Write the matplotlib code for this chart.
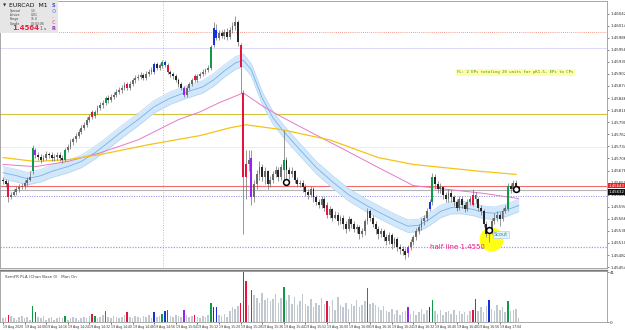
import numpy as np
import matplotlib
matplotlib.use("Agg")
import matplotlib.pyplot as plt
import matplotlib.transforms as mtransforms
from matplotlib.patches import Rectangle

# ---------------- data (prices in pips above 1.4500) ----------------
opens_p = [
    65.7, 65.3, 65.0, 61.6, 62.2, 62.9, 63.4, 63.9, 64.3, 64.8,
    65.7, 67.6, 72.6, 71.5, 71.0, 70.3, 70.8, 71.7, 71.3, 70.6,
    71.0, 71.5, 70.8, 70.3, 72.6, 73.3, 74.3, 75.0, 75.9, 76.8,
    77.7, 78.4, 79.6, 81.4, 80.5, 81.4, 82.3, 83.0, 83.5, 84.6,
    84.2, 84.9, 85.3, 86.0, 86.5, 87.0, 87.9, 87.0, 87.9, 88.8,
    89.3, 89.5, 90.0, 89.3, 90.2, 90.7, 90.7, 92.5, 91.6, 92.0,
    93.0, 92.3, 90.7, 90.2, 89.7, 88.8, 87.9, 87.0, 85.3, 87.0,
    87.9, 89.7, 88.8, 89.7, 90.2, 90.7, 91.1, 91.6, 96.9, 100.4,
    98.5, 99.7, 99.0, 99.9, 98.7, 100.4, 101.3, 102.2, 96.9, 85.8,
    66.2, 69.2, 70.8, 61.6, 64.6, 66.9, 68.5, 66.2, 67.6, 64.6,
    65.7, 66.9, 68.0, 66.2, 68.0, 70.3, 68.0, 66.9, 67.6, 65.7,
    64.6, 65.0, 63.9, 62.9, 62.2, 63.4, 61.6, 60.6, 59.9, 61.1,
    59.9, 57.6, 58.8, 56.9, 57.6, 56.0, 56.9, 55.3, 54.2, 56.5,
    55.3, 54.2, 54.6, 53.0, 53.7, 56.0, 58.3, 56.9, 55.3, 54.2,
    53.0, 53.7, 52.3, 51.4, 52.8, 50.7, 51.9, 50.0, 49.5, 49.1,
    48.6, 50.0, 51.2, 52.3, 53.7, 54.6, 56.0, 56.9, 58.8, 60.4,
    66.4, 64.6, 63.4, 63.9, 62.2, 61.1, 62.7, 61.6, 60.4, 59.2,
    61.1, 59.9, 58.8, 60.4, 59.9, 62.2, 61.1, 59.2, 58.3, 55.3,
    53.0, 53.7, 56.0, 56.9, 57.6, 56.5, 58.3, 58.8, 64.3, 63.4,
    65.0, 63.9]
closes_p = [
    65.3, 64.6, 61.6, 62.2, 62.9, 63.4, 63.9, 64.3, 64.8, 65.7,
    66.2, 73.1, 71.5, 71.0, 70.3, 70.8, 71.7, 71.3, 70.6, 71.0,
    71.5, 70.8, 70.3, 72.6, 73.3, 74.3, 75.0, 75.9, 76.8, 77.7,
    78.4, 79.6, 80.3, 80.3, 81.4, 82.3, 83.0, 83.5, 84.6, 84.2,
    84.9, 85.3, 86.0, 86.5, 87.0, 87.7, 87.0, 87.9, 88.8, 89.3,
    89.5, 90.0, 89.3, 90.2, 90.7, 91.1, 92.5, 91.6, 92.3, 93.0,
    92.3, 90.7, 90.2, 89.7, 88.8, 87.9, 87.0, 85.3, 87.0, 87.9,
    88.8, 88.8, 89.7, 90.2, 90.7, 91.1, 91.6, 96.4, 100.8, 98.5,
    99.7, 99.0, 99.9, 98.7, 100.4, 101.3, 102.2, 97.6, 91.8, 66.2,
    69.2, 70.3, 61.6, 64.6, 66.9, 68.5, 66.2, 67.6, 64.6, 65.7,
    66.9, 68.0, 66.2, 68.5, 70.3, 68.0, 66.9, 67.6, 65.7, 64.6,
    65.0, 63.9, 62.9, 62.2, 63.4, 61.6, 60.6, 59.9, 61.1, 59.2,
    57.6, 58.8, 56.9, 57.6, 56.0, 56.9, 55.3, 54.2, 56.5, 55.3,
    54.2, 54.6, 53.0, 53.7, 56.0, 58.3, 56.9, 55.3, 54.2, 53.0,
    53.7, 52.3, 51.4, 52.8, 50.7, 51.9, 50.0, 49.5, 49.1, 48.2,
    50.0, 51.2, 52.3, 53.7, 54.6, 56.0, 56.9, 58.3, 60.4, 66.4,
    64.6, 63.4, 63.9, 62.2, 61.1, 62.7, 61.6, 60.4, 59.2, 61.1,
    59.9, 58.8, 60.4, 61.1, 62.2, 61.1, 59.2, 58.3, 55.3, 53.0,
    53.7, 56.0, 56.9, 57.6, 56.5, 58.3, 59.2, 64.3, 63.4, 65.0,
    63.9, 63.6]
highs_p = [
    66.4, 65.9, 65.5, 62.9, 63.4, 64.1, 64.6, 65.0, 65.5, 66.2,
    67.6, 73.8, 73.1, 72.2, 71.7, 71.5, 72.4, 72.2, 72.0, 71.7,
    72.2, 72.0, 71.5, 73.1, 74.0, 75.0, 75.6, 76.6, 77.5, 78.4,
    79.1, 80.3, 81.0, 81.9, 81.9, 83.0, 83.7, 84.2, 85.1, 85.3,
    85.6, 86.0, 86.7, 87.2, 87.7, 88.3, 88.3, 88.6, 89.3, 90.0,
    90.2, 90.7, 90.4, 90.9, 91.4, 91.8, 93.0, 93.0, 92.7, 93.4,
    93.4, 92.7, 91.1, 90.7, 90.2, 89.3, 88.3, 87.4, 87.4, 88.3,
    89.3, 90.2, 90.2, 90.7, 91.4, 91.6, 92.3, 96.9, 102.2, 101.7,
    100.4, 100.4, 100.6, 100.8, 101.1, 102.2, 103.6, 102.7, 97.4, 86.5,
    72.6, 72.6, 72.6, 65.7, 68.0, 69.9, 69.2, 68.5, 68.0, 66.6,
    67.6, 68.9, 68.7, 69.4, 77.3, 71.0, 68.7, 68.5, 68.0, 66.4,
    65.7, 65.7, 64.6, 63.6, 64.1, 63.9, 62.2, 61.3, 61.8, 61.6,
    60.6, 59.5, 59.2, 58.3, 58.1, 57.6, 57.4, 56.0, 57.2, 56.9,
    56.0, 55.3, 55.1, 54.4, 56.5, 59.2, 58.8, 57.6, 56.0, 54.9,
    54.4, 54.2, 53.0, 53.5, 53.2, 52.5, 52.3, 50.7, 50.2, 49.8,
    50.5, 51.9, 52.8, 54.4, 55.3, 56.7, 57.6, 59.0, 61.1, 67.3,
    66.9, 65.3, 64.8, 64.3, 62.9, 63.4, 63.2, 62.2, 61.1, 61.8,
    61.8, 60.6, 61.1, 61.8, 63.4, 62.9, 61.6, 59.9, 58.8, 56.0,
    54.6, 56.7, 57.9, 58.3, 58.1, 59.0, 59.9, 65.0, 65.0, 65.7,
    65.7, 64.3]
lows_p = [
    64.6, 63.9, 60.6, 61.1, 61.8, 62.2, 62.9, 63.4, 63.6, 64.3,
    65.3, 67.1, 70.8, 70.3, 69.6, 69.9, 70.3, 70.6, 69.9, 70.1,
    70.3, 70.1, 69.6, 69.9, 72.0, 72.9, 73.6, 74.5, 75.4, 76.3,
    77.3, 78.0, 79.1, 79.8, 80.0, 81.0, 81.9, 82.3, 83.0, 83.5,
    83.7, 84.4, 84.9, 85.6, 85.8, 86.5, 86.5, 86.5, 87.4, 88.1,
    88.8, 89.0, 88.8, 88.8, 89.7, 90.2, 90.2, 91.1, 91.1, 91.6,
    91.8, 90.2, 89.5, 89.0, 88.3, 87.2, 86.5, 84.9, 84.9, 86.5,
    87.4, 88.3, 88.3, 89.3, 89.7, 90.2, 90.7, 91.1, 96.4, 98.1,
    98.1, 98.5, 98.3, 98.1, 98.3, 99.7, 100.4, 96.7, 85.8, 53.0,
    61.1, 67.6, 59.9, 60.6, 63.4, 65.7, 65.3, 64.6, 63.4, 63.9,
    64.8, 66.2, 65.3, 65.7, 65.3, 64.8, 65.9, 66.2, 64.8, 63.9,
    63.9, 62.9, 62.0, 61.3, 61.6, 60.6, 59.7, 59.0, 59.2, 58.3,
    56.9, 56.9, 56.0, 56.5, 55.1, 55.3, 54.2, 53.2, 53.7, 54.4,
    53.5, 53.2, 51.9, 52.3, 52.8, 55.3, 56.0, 54.6, 53.0, 51.9,
    52.3, 51.4, 50.5, 50.7, 49.5, 50.0, 49.1, 48.4, 48.2, 47.2,
    47.7, 49.3, 50.5, 51.6, 53.0, 53.9, 55.1, 56.2, 58.3, 59.9,
    63.4, 62.5, 62.7, 61.3, 60.4, 60.6, 60.6, 59.5, 58.3, 58.6,
    59.0, 58.1, 58.3, 59.7, 59.5, 60.2, 58.3, 57.4, 54.6, 52.3,
    51.2, 53.0, 55.3, 56.0, 54.9, 56.0, 57.9, 58.3, 62.5, 62.9,
    62.9, 62.9]
volumes = [
    3, 4, 6, 5, 3, 2, 4, 5, 3, 4,
    2, 13, 8, 4, 3, 5, 2, 3, 4, 2,
    3, 4, 3, 5, 2, 3, 4, 3, 2, 3,
    4, 3, 5, 7, 5, 3, 4, 6, 9, 4,
    3, 5, 4, 3, 4, 6, 8, 4, 3, 5,
    4, 3, 5, 4, 6, 3, 8, 4, 5, 7,
    9, 10, 5, 4, 6, 5, 4, 10, 6, 4,
    5, 6, 4, 3, 5, 4, 6, 16, 12, 12,
    6, 5, 7, 4, 9, 12, 11, 13, 16, 41,
    34, 14, 26, 22, 20, 16, 24, 18, 20, 17,
    19, 23, 16, 20, 29, 18, 22, 15, 21, 14,
    17, 23, 15, 13, 19, 12, 16, 14, 20, 15,
    17, 13, 18, 10, 21, 14, 12, 16, 11, 15,
    13, 18, 12, 14, 17, 28, 15, 16, 14, 12,
    10, 13, 9, 8, 11, 7, 10, 6, 8, 9,
    12, 7, 9, 6, 8, 11, 7, 10, 12, 18,
    9, 7, 10, 6, 8, 9, 7, 10, 6, 9,
    7, 8, 6, 9, 10, 19, 9, 12, 8, 13,
    18, 11, 9, 14, 10, 12, 8, 17, 9, 10,
    11, 3]

vsa_idx = [2, 11, 12, 23, 33, 34, 38, 46, 56, 59, 60, 61, 67, 71, 77, 78, 79,
           88, 89, 90, 92, 104, 120, 135, 150, 158, 159, 174, 175, 180, 187]
vsa_kind = ['red', 'green', 'purple', 'green', 'red', 'green', 'green', 'red',
            'blue', 'green', 'blue', 'red', 'purple', 'red', 'green', 'blue',
            'blue', 'red', 'red', 'red', 'purple', 'green', 'red', 'green',
            'purple', 'blue', 'green', 'red', 'red', 'blue', 'green']

band_idx = [0, 5, 9, 14, 18, 24, 29, 34, 39, 44, 50, 56, 62, 68, 74, 78, 82, 86,
            89, 92, 96, 100, 104, 110, 116, 122, 128, 134, 140, 146, 150, 154,
            158, 162, 166, 170, 174, 178, 182, 186, 191]
band_mid_p = [67.3, 66.6, 65.9, 66.6, 67.6, 68.7, 69.9, 71.9, 74.3, 76.8, 79.6,
              82.6, 84.6, 86.0, 87.2, 88.8, 90.9, 92.7, 93.4, 91.1, 84.6, 80.0,
              76.8, 72.6, 68.5, 65.2, 62.2, 59.9, 57.9, 56.0, 54.9, 55.1, 56.5,
              58.3, 59.2, 59.2, 58.8, 58.1, 57.9, 58.5, 59.7]
band_half_p = 1.45

ma_pink_idx = [0, 12, 24, 36, 50, 65, 73, 80, 89, 96, 103, 113, 125, 139, 152,
               165, 178, 191]
ma_pink_p = [69.2, 68.7, 69.9, 71.9, 74.9, 79.6, 81.4, 83.5, 85.8, 82.8, 80.3,
             77.0, 73.1, 68.5, 64.3, 63.4, 62.5, 61.3]
ma_gold_idx = [0, 12, 24, 36, 54, 73, 84, 90, 103, 121, 139, 152, 177, 190]
ma_gold_p = [70.8, 69.9, 70.3, 71.5, 73.8, 75.9, 77.7, 78.4, 77.3, 74.9, 70.8,
             69.2, 67.6, 66.9]

level_red_dot_p = 99.9
level_lav_p = 96.2
level_olive_p = 81.0
level_faint_p = 73.3
bid_p = 64.3
ask_p = 63.2
level_blue_dot_p = 61.8
half_line_p = 50.0

signal_idx = [105, 180, 190]
signal_p = [65.2, 53.9, 63.6]
session_break_idx = 59.3

price_tick_p = [45.4, 48.2, 51.0, 53.8, 56.6, 59.4, 62.2, 65.0, 67.8, 70.6, 73.4,
                76.2, 79.0, 81.8, 84.6, 87.4, 90.2, 93.0, 95.8, 98.6, 101.4, 104.2]
time_tick_idx = list(range(0, 192, 8))
time_labels = ['19 Aug 2020', '19 Aug 14:08', '19 Aug 14:16', '19 Aug 14:24',
               '19 Aug 14:32', '19 Aug 14:40', '19 Aug 14:48', '19 Aug 14:56',
               '19 Aug 15:04', '19 Aug 15:12', '19 Aug 15:20', '19 Aug 15:28',
               '19 Aug 15:36', '19 Aug 15:44', '19 Aug 15:52', '19 Aug 16:00',
               '19 Aug 16:08', '19 Aug 16:16', '19 Aug 16:24', '19 Aug 16:32',
               '19 Aug 16:40', '19 Aug 16:48', '19 Aug 16:56', '19 Aug 17:04']

BASE = 1.45
PIP = 1e-4
def pr(p):
    return BASE + np.asarray(p, dtype=float) * PIP

O, C, Hh, L = pr(opens_p), pr(closes_p), pr(highs_p), pr(lows_p)
N = len(C)
xi = np.arange(N)

VSA = {'red': '#e8123c', 'green': '#0e9a48', 'blue': '#1232e0', 'purple': '#9a22f0'}

# ---------------- figure ----------------
W, Hpx = 625, 330
fig = plt.figure(figsize=(6.25, 3.3), dpi=100)
fig.patch.set_facecolor('white')
def fx(px): return px / W
def fy(py): return 1 - py / Hpx

ax = fig.add_axes([0, fy(268), fx(607), (268 - 1) / Hpx])
axv = fig.add_axes([0, fy(322), fx(607), (322 - 271) / Hpx])
for a in (ax, axv):
    a.set_facecolor('white')
    for s in a.spines.values():
        s.set_color('#9a9a9a')
        s.set_linewidth(0.6)

xlim = (-1.1, 223.7)
ax.set_xlim(*xlim)
axv.set_xlim(*xlim)
ax.set_ylim(BASE + 45.2 * PIP, BASE + 107.1 * PIP)

# horizontal levels
ax.axhline(pr(level_red_dot_p), color='#f07a6a', lw=0.6, ls=(0, (1, 1.5)), zorder=1)
ax.axhline(pr(level_lav_p), color='#dcdcf8', lw=0.8, zorder=1)
ax.axhline(pr(level_olive_p), color='#d2c43c', lw=0.8, zorder=1)
ax.axhline(pr(level_faint_p), color='#f2eed6', lw=0.7, zorder=1)
ax.axhline(pr(bid_p), color='#f26a6a', lw=0.8, zorder=1)
ax.axhline(pr(ask_p), color='#b4b4b4', lw=0.8, zorder=1)
ax.axhline(pr(level_blue_dot_p), color='#8a84e6', lw=0.7, ls=(0, (1, 1.5)), zorder=1)
ax.axhline(pr(half_line_p), color='#9c9ae8', lw=0.9, ls=(0, (1, 1.2)), zorder=1)
ax.axvline(session_break_idx, color='#a8a8a8', lw=0.6, ls=(0, (1, 2)), zorder=1)

# blue band
bmid = pr(band_mid_p)
ax.fill_between(band_idx, bmid - band_half_p * PIP, bmid + band_half_p * PIP,
                color='#d3e7fa', lw=0, zorder=1.5)
ax.plot(band_idx, bmid - band_half_p * PIP, color='#b4d6f4', lw=0.5, zorder=1.6)
ax.plot(band_idx, bmid + band_half_p * PIP, color='#b4d6f4', lw=0.5, zorder=1.6)
ax.plot(band_idx, bmid, color='#74b2ea', lw=0.6, zorder=1.7)

# moving averages
ax.plot(ma_pink_idx, pr(ma_pink_p), color='#e47ac8', lw=0.7, zorder=1.8)
ax.plot(ma_gold_idx, pr(ma_gold_p), color='#f6c414', lw=0.9, zorder=1.8)

# yellow highlight circle
ax.scatter([180.6], [pr(lows_p[180] + 0.7)], s=300, color='#ffff14', lw=0, zorder=2)

# candles
cols = np.where(C >= O, '#6a6a6a', '#262626').astype(object)
for k, kind in zip(vsa_idx, vsa_kind):
    cols[k] = VSA[kind]
ax.vlines(xi, L, Hh, colors='#6e6e6e', lw=0.5, zorder=3)
body = C - O
body = np.where(np.abs(body) < 0.25 * PIP, 0.25 * PIP, body)
ax.bar(xi, body, bottom=O, width=0.72, color=list(cols), lw=0, zorder=4)

# signal circles
ax.plot(signal_idx, pr(signal_p), 'o', ms=4.2, mfc='white', mec='black', mew=1.1,
        zorder=6, ls='none')

# annotations
ax.text(158, pr(half_line_p), 'half line 1.4550', color='#e8208c', fontsize=5,
        va='center', ha='left', zorder=5)
ax.text(181.8, pr(closes_p[180] - 0.7), 'Scout', color='#1a9a88', fontsize=3.6,
        va='center', ha='left', zorder=7,
        bbox=dict(boxstyle='square,pad=0.25', fc='#e4f2ff', ec='#a8c8e8', lw=0.4))
fig.text(fx(457), fy(72.5), 'FL: 2 EPs totaling 20 units for pK1.5, EPs to CPs',
         family='DejaVu Sans Mono', fontsize=2.8, color='#3a8a2a', va='center',
         ha='left', bbox=dict(boxstyle='square,pad=0.3', fc='#ffffa6', ec='none'))

# price axis
ax.yaxis.tick_right()
ax.set_yticks(pr(price_tick_p))
ax.set_yticklabels([f'{BASE + p * PIP:.5f}' for p in price_tick_p])
ax.tick_params(axis='y', labelsize=2.9, length=1.5, pad=0.8, colors='#303030', width=0.4)
ax.set_xticks([])
blend = mtransforms.blended_transform_factory(ax.transAxes, ax.transData)
ax.text(1.003, pr(bid_p), f'{BASE + bid_p * PIP:.5f}', transform=blend, fontsize=2.8,
        color='white', va='center', ha='left', zorder=10, clip_on=False,
        bbox=dict(boxstyle='square,pad=0.2', fc='#ee1c24', ec='none'))
ax.text(1.003, pr(ask_p) - 0.35 * PIP, f'{BASE + ask_p * PIP:.5f}', transform=blend,
        fontsize=2.8, color='white', va='center', ha='left', zorder=10, clip_on=False,
        bbox=dict(boxstyle='square,pad=0.2', fc='#101010', ec='none'))

# volume pane
vcols = np.array(['#c2c8d0'] * N, dtype=object)
for k, kind in zip(vsa_idx, vsa_kind):
    vcols[k] = VSA[kind]
axv.bar(xi, volumes, width=0.58, color=list(vcols), lw=0)
axv.set_ylim(0, 42)
axv.yaxis.tick_right()
axv.set_yticks([0, 41])
axv.set_yticklabels(['0', '41'])
axv.tick_params(axis='y', labelsize=3.0, length=1.5, pad=0.8, width=0.4, colors='#303030')
axv.set_xticks(time_tick_idx)
axv.set_xticklabels(time_labels, fontsize=2.25, ha='left', color='#303030')
axv.tick_params(axis='x', length=1.5, pad=0.8, width=0.4)
axv.text(0.008, 0.93, 'SemFR PLA (Chan Base 0)   Man On', transform=axv.transAxes,
         fontsize=2.9, color='#404040', va='top', ha='left')

# pane separator
fig.add_artist(plt.Line2D([0, fx(607)], [fy(269.8), fy(269.8)], color='#7a7a7a', lw=1.0))

# info box (top-left)
fig.add_artist(Rectangle((0, fy(33)), fx(58), 33 / Hpx, facecolor='#e6e6e6',
                         edgecolor='none', zorder=8))
fig.text(fx(2.5), fy(5.5), '\u25bc', fontsize=3, color='#303030', va='center', zorder=9)
fig.text(fx(9), fy(5.5), 'EURCAD  M1', fontsize=4.4, color='#101010', va='center', zorder=9)
rows = [('Spread', '1.5'), ('Lotsize', '0.01'), ('Range', '15.0'), ('Candle', '00:03:06')]
for r, (k, v) in enumerate(rows):
    yy = 11 + r * 4.2
    fig.text(fx(10), fy(yy), k, fontsize=2.2, color='#404040', va='center', zorder=9)
    fig.text(fx(31), fy(yy), v, fontsize=2.2, color='#404040', va='center', zorder=9)
fig.text(fx(12), fy(28.5), '1.4564', fontsize=5.0, color='#e8203c', va='center',
         fontweight='bold', zorder=9)
fig.text(fx(39.5), fy(29), '1', fontsize=3.4, color='#e8203c', va='center', zorder=9)
fig.text(fx(43.5), fy(29), 's', fontsize=3.0, color='#404040', va='center', zorder=9)
side = [('S', '#3a4ae0', 5.5), ('O', '#8aa0f0', 11.5), ('.', '#b090e0', 17),
        ('C', '#f07ab0', 22.5), ('R', '#9a30c0', 28)]
for t, c, yy in side:
    fig.text(fx(51.5), fy(yy), t, fontsize=3.6, color=c, va='center', zorder=9,
             fontweight='bold')

fig.savefig('out.png', dpi=100, facecolor='white')
